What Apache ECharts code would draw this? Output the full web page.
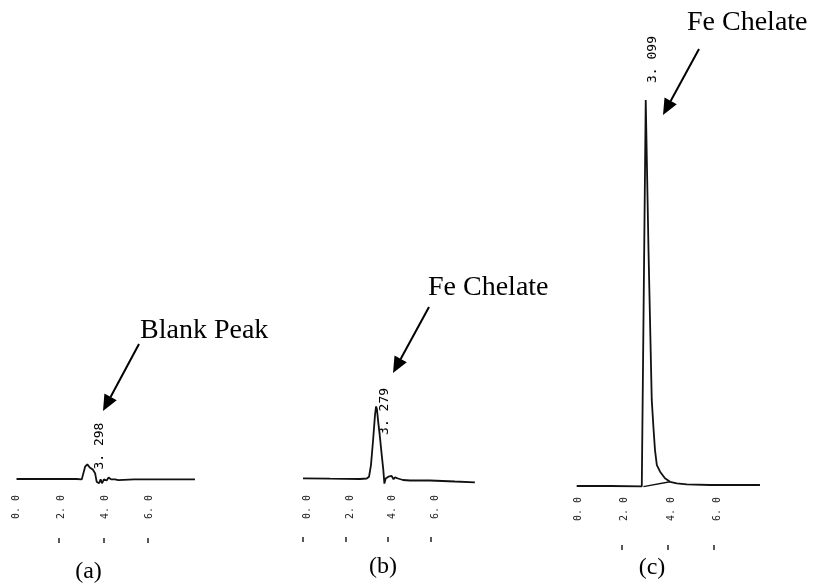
<!DOCTYPE html>
<html>
<head>
<meta charset="utf-8">
<script src="https://cdn.jsdelivr.net/npm/echarts@6/dist/echarts.min.js"></script>
<style>html,body{margin:0;padding:0;background:#fff}#c{width:814px;height:584px}</style>
</head>
<body>
<div id="c"></div>
<script>
// ---- data: retention time (min) and detector signal (relative units) ----
const timeA   = [0.0, 1.2, 2.4, 2.70, 2.78, 2.94, 3.09, 3.19, 3.31, 3.43, 3.54, 3.61, 3.72, 3.79, 3.85, 3.94, 4.06, 4.15, 4.26, 4.44, 4.59, 5.3, 6.6, 8.04];
const signalA = [0, 0, 0.05, 0, -0.5, -0.1, 3.2, 3.8, 2.9, 2.5, 1.5, -0.7, -1.1, -0.1, -1.1, -0.1, -0.4, 0.4, -0.1, -0.1, -0.3, -0.1, -0.1, -0.1];

const timeB   = [-0.21, 1.06, 2.46, 2.78, 2.89, 2.98, 3.08, 3.17, 3.22, 3.26, 3.32, 3.40, 3.48, 3.56, 3.61, 3.67, 3.73, 3.80, 3.87, 3.95, 4.04, 4.11, 4.25, 4.48, 4.81, 5.75, 6.92, 7.86];
const signalB = [0.18, 0.08, 0, 0.13, 0.6, 3.6, 10.1, 16.6, 18.8, 18.1, 14.8, 10.9, 6.5, 2.3, -1.2, 0.13, -0.26, 0.6, 0.18, 0.78, -0.08, 0.44, 0.13, -0.26, -0.39, -0.39, -0.65, -0.85];

const timeC   = [-0.08, 1.36, 2.73, 2.80, 2.90, 3.02, 3.16, 3.23, 3.30, 3.38, 3.52, 3.73, 3.95, 4.24, 4.67, 5.68, 7.83];
const signalC = [0, 0, -0.1, -0.18, 100, 61, 22.3, 15.4, 9.3, 5.4, 3.7, 2.0, 1.1, 0.7, 0.44, 0.26, 0.26];
const timeCBaseline   = [2.80, 3.95];
const signalCBaseline = [-0.18, 1.1];

const tickValues = [0, 2, 4, 6];
const tickLabels = ['0. 0', '2. 0', '4. 0', '6. 0'];
const markValuesA = [2, 4, 6];
const markValuesB = [0, 2, 4, 6];
const markValuesC = [2, 4, 6];

const peakTimes   = [3.19, 3.22, 2.90];
const peakSignals = [3.8, 18.8, 100];
const peakLabels  = ['3. 298', '3. 279', '3. 099'];

const annotations = ['Blank Peak', 'Fe Chelate', 'Fe Chelate'];
const captions = ['(a)', '(b)', '(c)'];

// ---- layout ----
const zip = (xs, ys) => xs.map((x, i) => [x, ys[i]]);
const mono = '"DejaVu Sans Mono", monospace';
const serif = '"Liberation Serif", "Times New Roman", serif';

const panels = [
  {left: 14.3,  top: 93,  width: 182,   min: -0.1, max: 8.1, margin: 16, tickShift: -2,   tickOffset: 59, marks: markValuesA},
  {left: 301.1, top: 93,  width: 176.8, min: -0.3, max: 8.0, margin: 16, tickShift: -4.5, tickOffset: 58, marks: markValuesB},
  {left: 573.9, top: 100, width: 190,   min: -0.2, max: 8.0, margin: 11, tickShift: -3.5, tickOffset: 59, marks: markValuesC}
];
const H = 386;

const grid = [], xAxis = [], yAxis = [];
panels.forEach((p, i) => {
  grid.push({left: p.left, top: p.top, width: p.width, height: H});
  xAxis.push({
    gridIndex: i, type: 'value', min: p.min, max: p.max,
    axisLine: {show: false, onZero: false}, axisTick: {show: false}, splitLine: {show: false},
    axisLabel: {
      customValues: tickValues, rotate: 90, margin: p.margin,
      fontFamily: mono, fontSize: 10, color: '#222',
      formatter: v => tickLabels[tickValues.indexOf(Math.round(v))] || ''
    }
  });
  yAxis.push({gridIndex: i, type: 'value', min: 0, max: 100, show: false});
});
panels.forEach((p, i) => {
  grid.push({left: p.left + p.tickShift, top: p.top, width: p.width, height: H});
  xAxis.push({
    gridIndex: 3 + i, type: 'value', min: p.min, max: p.max, offset: p.tickOffset, position: 'bottom',
    axisLine: {show: false, onZero: false}, splitLine: {show: false}, axisLabel: {show: false},
    axisTick: {show: true, customValues: p.marks, length: 5, lineStyle: {color: '#222', width: 1.5}}
  });
  yAxis.push({gridIndex: 3 + i, type: 'value', min: 0, max: 100, show: false});
});

const lineStyle = {color: '#111', width: 1.8};
const mk = (idx, data) => ({
  type: 'line', xAxisIndex: idx, yAxisIndex: idx, data, symbol: 'none', showSymbol: false,
  lineStyle, clip: false, silent: true, animation: false
});

const chart = echarts.init(document.getElementById('c'));
chart.setOption({
  animation: false,
  backgroundColor: '#fff',
  grid, xAxis, yAxis,
  series: [
    mk(0, zip(timeA, signalA)),
    mk(1, zip(timeB, signalB)),
    mk(2, zip(timeC, signalC)),
    Object.assign(mk(2, zip(timeCBaseline, signalCBaseline)), {lineStyle: {color: '#111', width: 1.3}})
  ]
});

// ---- annotations ----
function arrow(sx, sy, tx, ty) {
  const dx = tx - sx, dy = ty - sy, L = Math.hypot(dx, dy);
  const ux = dx / L, uy = dy / L, head = 16, hw = 7;
  const bx = tx - ux * head, by = ty - uy * head;
  return [
    {type: 'line', shape: {x1: sx, y1: sy, x2: bx, y2: by}, style: {stroke: '#000', lineWidth: 2}},
    {type: 'polygon', shape: {points: [[tx, ty], [bx - uy * hw, by + ux * hw], [bx + uy * hw, by - ux * hw]]}, style: {fill: '#000'}}
  ];
}
function txt(text, x, y, font, align, rot) {
  return {type: 'text', x, y, rotation: rot || 0,
    style: {text, font, fill: '#000', align, verticalAlign: 'middle', textAlign: align, textVerticalAlign: 'middle'}};
}
const peakOffsets = [[12.7, -18.3], [9, 5], [7, -40.5]];
const g = [];
peakLabels.forEach((lab, i) => {
  const pt = chart.convertToPixel({gridIndex: i}, [peakTimes[i], peakSignals[i]]);
  g.push(txt(lab, pt[0] + peakOffsets[i][0], pt[1] + peakOffsets[i][1], '13px ' + mono, 'center', Math.PI / 2));
});
g.push(txt(annotations[0], 140, 331, '28px ' + serif, 'left'));
g.push(txt(annotations[1], 428, 288, '28px ' + serif, 'left'));
g.push(txt(annotations[2], 687, 23, '28px ' + serif, 'left'));
g.push(...arrow(139, 344, 103, 411));
g.push(...arrow(429, 307, 393, 373));
g.push(...arrow(699, 49, 663, 115));
g.push(txt(captions[0], 88.5, 572, '24px ' + serif, 'center'));
g.push(txt(captions[1], 383, 567, '24px ' + serif, 'center'));
g.push(txt(captions[2], 652, 568, '24px ' + serif, 'center'));
chart.setOption({graphic: {elements: g}});
</script>
</body>
</html>
